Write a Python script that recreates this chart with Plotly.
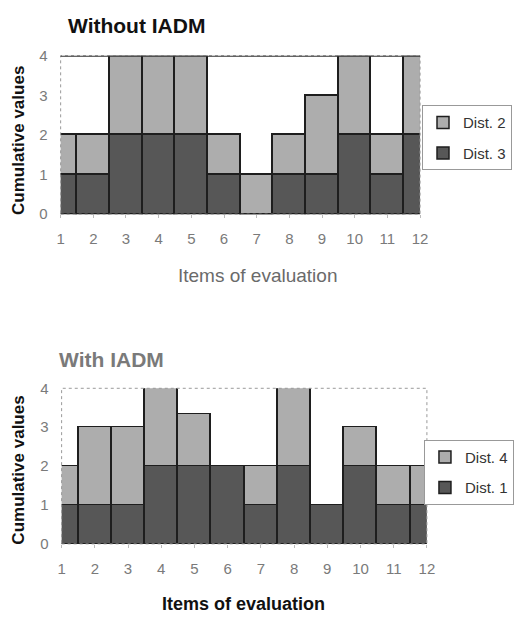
import plotly.graph_objects as go

items = list(range(1, 13))
tick_labels = [str(i) for i in items]

# Top chart: Without IADM
top_dist3 = [1, 1, 2, 2, 2, 1, 0, 1, 1, 2, 1, 2]
top_dist2 = [1, 1, 2, 2, 2, 1, 1, 1, 2, 2, 1, 2]

# Bottom chart: With IADM
bot_dist1 = [1, 1, 1, 2, 2, 2, 1, 2, 1, 2, 1, 1]
bot_dist4 = [1, 2, 2, 2, 1.33, 0, 1, 2, 0, 1, 1, 1]

DARK = "#575757"
LIGHT = "#adadad"
EDGE = "#1e1e1e"
FONT = "Liberation Sans, Arial, sans-serif"
W, H = 514, 619

def px_x(x):
    return x / W

def px_y(y):
    return 1 - y / H

fig = go.Figure()
line = dict(color=EDGE, width=1.5)

fig.add_trace(go.Bar(x=items, y=top_dist3, name="Dist. 3", marker=dict(color=DARK, line=line),
                     xaxis="x", yaxis="y", legend="legend", legendgroup="a", legendrank=2))
fig.add_trace(go.Bar(x=items, y=top_dist2, name="Dist. 2", marker=dict(color=LIGHT, line=line),
                     xaxis="x", yaxis="y", legend="legend", legendgroup="b", legendrank=1))
fig.add_trace(go.Bar(x=items, y=bot_dist1, name="Dist. 1", marker=dict(color=DARK, line=line),
                     xaxis="x2", yaxis="y2", legend="legend2", legendgroup="c", legendrank=2))
fig.add_trace(go.Bar(x=items, y=bot_dist4, name="Dist. 4", marker=dict(color=LIGHT, line=line),
                     xaxis="x2", yaxis="y2", legend="legend2", legendgroup="d", legendrank=1))

tickfont = dict(family=FONT, size=15, color="#7a7a7a")
xcommon = dict(range=[1, 12], tickmode="array", tickvals=items, ticktext=tick_labels,
               showgrid=False, zeroline=False, showline=False, tickfont=tickfont,
               ticks="outside", ticklen=3, tickcolor="#bbbbbb", ticklabelstandoff=8)
ycommon = dict(range=[0, 4], tickvals=[0, 1, 2, 3, 4], showgrid=False, zeroline=False,
               showline=False, tickfont=tickfont, ticklabelstandoff=12)

legend_common = dict(font=dict(family=FONT, size=15, color="#333333"), bgcolor="white",
                     bordercolor="#999999", borderwidth=1, traceorder="grouped",
                     tracegroupgap=8, xanchor="left", yanchor="top")

fig.update_layout(
    width=W, height=H, margin=dict(l=0, r=0, t=0, b=0),
    paper_bgcolor="white", plot_bgcolor="white",
    barmode="stack", bargap=0,
    xaxis=dict(domain=[px_x(58), px_x(426)], anchor="y", **xcommon),
    yaxis=dict(domain=[px_y(211), px_y(48)], anchor="x", **ycommon),
    xaxis2=dict(domain=[px_x(59), px_x(433)], anchor="y2", **xcommon),
    yaxis2=dict(domain=[px_y(550), px_y(390)], anchor="x2", **ycommon),
    legend=dict(x=px_x(428), y=px_y(99), **legend_common),
    legend2=dict(x=px_x(430), y=px_y(443), **legend_common),
    showlegend=True,
)

# Plot-area borders (dotted) and the solid top line of the upper chart
for xr, yr in (("x", "y"), ("x2", "y2")):
    fig.add_shape(type="rect", xref=f"{xr} domain", yref=f"{yr} domain", x0=0, x1=1, y0=0, y1=1,
                  line=dict(color="#999999", width=1, dash="dot"), layer="above")
fig.add_shape(type="line", xref="x domain", yref="y", x0=0, x1=1, y0=4, y1=4,
              line=dict(color="#333333", width=2), layer="above")

ann = []
ann.append(dict(text="<b>Without IADM</b>", x=px_x(63), y=px_y(17), xanchor="left", yanchor="middle",
                font=dict(family=FONT, size=21, color="#111111")))
ann.append(dict(text="<b>With IADM</b>", x=px_x(54), y=px_y(360), xanchor="left", yanchor="middle",
                font=dict(family=FONT, size=21, color="#7a7a7a")))
for yc in (135, 474):
    ann.append(dict(text="<b>Cumulative values</b>", x=px_x(15), y=px_y(yc), textangle=-90,
                    xanchor="center", yanchor="middle",
                    font=dict(family=FONT, size=17, color="#111111")))
ann.append(dict(text="Items of evaluation", x=px_x(260), y=px_y(274), xanchor="center", yanchor="middle",
                font=dict(family=FONT, size=19, color="#6a6a6a")))
ann.append(dict(text="<b>Items of evaluation</b>", x=px_x(245), y=px_y(612), xanchor="center",
                yanchor="middle", font=dict(family=FONT, size=18, color="#111111")))
for a in ann:
    a.update(xref="paper", yref="paper", showarrow=False)
fig.update_layout(annotations=ann)

fig.write_html("out.html")
